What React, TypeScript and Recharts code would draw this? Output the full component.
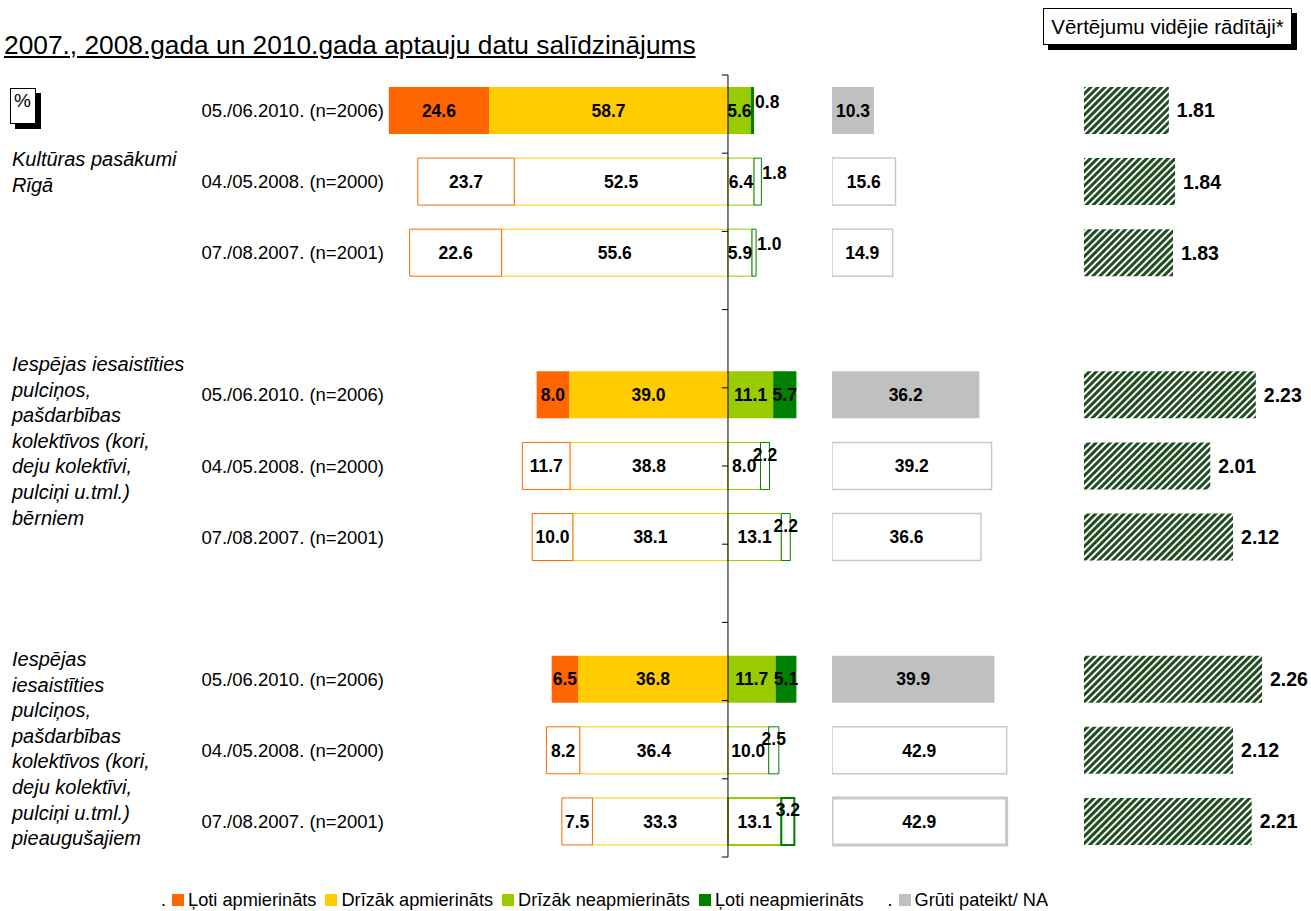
import React from 'react';
import { BarChart, Bar, XAxis, YAxis, LabelList, Cell, ReferenceLine } from 'recharts';

const periods = ['05./06.2010. (n=2006)', '04./05.2008. (n=2000)', '07./08.2007. (n=2001)'];

const groupNames = [
  ['Kultūras pasākumi', 'Rīgā'],
  ['Iespējas iesaistīties', 'pulciņos,', 'pašdarbības', 'kolektīvos (kori,', 'deju kolektīvi,', 'pulciņi u.tml.)', 'bērniem'],
  ['Iespējas', 'iesaistīties', 'pulciņos,', 'pašdarbības', 'kolektīvos (kori,', 'deju kolektīvi,', 'pulciņi u.tml.)', 'pieaugušajiem'],
];

// one value per row: group 1 (2010, 2008, 2007), group 2 (...), group 3 (...)
const verySatisfied = [24.6, 23.7, 22.6, 8.0, 11.7, 10.0, 6.5, 8.2, 7.5];
const ratherSatisfied = [58.7, 52.5, 55.6, 39.0, 38.8, 38.1, 36.8, 36.4, 33.3];
const ratherDissatisfied = [5.6, 6.4, 5.9, 11.1, 8.0, 13.1, 11.7, 10.0, 13.1];
const veryDissatisfied = [0.8, 1.8, 1.0, 5.7, 2.2, 2.2, 5.1, 2.5, 3.2];
const hardToSay = [10.3, 15.6, 14.9, 36.2, 39.2, 36.6, 39.9, 42.9, 42.9];
const meanScores = [1.81, 1.84, 1.83, 2.23, 2.01, 2.12, 2.26, 2.12, 2.21];

const seriesNames = ['Ļoti apmierināts', 'Drīzāk apmierināts', 'Drīzāk neapmierināts', 'Ļoti neapmierināts', 'Grūti pateikt/ NA'];
const seriesColors = ['#ff6600', '#ffcc00', '#99cc00', '#008000', '#c0c0c0'];

type Row = {
  key: string;
  period: string;
  current: boolean;
  last: boolean;
  veryS?: number;
  ratherS?: number;
  ratherD?: number;
  veryD?: number;
  hard?: number;
  mean?: number;
};

const rows: Row[] = [];
groupNames.forEach((_, gi) => {
  if (gi > 0) rows.push({ key: `gap${gi}`, period: '', current: false, last: false });
  periods.forEach((p, pi) => {
    const i = gi * 3 + pi;
    rows.push({
      key: `${gi}-${pi}`,
      period: p,
      current: pi === 0,
      last: i === verySatisfied.length - 1,
      veryS: -verySatisfied[i],
      ratherS: -ratherSatisfied[i],
      ratherD: ratherDissatisfied[i],
      veryD: veryDissatisfied[i],
      hard: hardToSay[i],
      mean: meanScores[i],
    });
  });
});

const font = '"Liberation Sans", Arial, sans-serif';
const chartHeight = 880;
const chartMargin = { top: 75, bottom: 23 };
const fmt = (v: any) => (v == null ? '' : Math.abs(Number(v)).toFixed(1));
const labelStyle = { fontSize: 17.5, fontWeight: 700, fill: '#000', fontFamily: font };

const SmallLabel = (props: any) => {
  const vb = props.viewBox || props;
  const x = props.x ?? vb.x;
  const y = props.y ?? vb.y;
  const width = props.width ?? vb.width;
  const height = props.height ?? vb.height;
  const { value } = props;
  if (value == null) return null;
  const v = Math.abs(Number(value));
  let tx = x + width / 2;
  let anchor: 'middle' | 'start' = 'middle';
  let dy = 0;
  if (v < 2) {
    tx = x + width + 1;
    anchor = 'start';
    dy = -9;
  } else if (v < 4) {
    dy = -11;
  }
  return (
    <text x={tx} y={y + height / 2 + dy} textAnchor={anchor} dominantBaseline="central" {...labelStyle}>
      {v.toFixed(1)}
    </text>
  );
};

const segmentCells = (color: string, thick: boolean) =>
  rows.map((r) => (
    <Cell
      key={r.key}
      fill={r.current ? color : '#ffffff'}
      stroke={r.current ? 'none' : color}
      strokeWidth={thick && r.last ? 2 : 1}
    />
  ));

const periodOf = (k: any) => rows.find((r) => r.key === k)?.period ?? '';

const boxShadow = '5px 5px 0 #000';

export default function App() {
  return (
    <div style={{ position: 'absolute', left: 0, top: 0, width: 1311, height: 911, overflow: 'hidden', background: '#fff', fontFamily: font }}>
      <div style={{ position: 'absolute', left: 4, top: 30, fontSize: 26.3, textDecoration: 'underline', whiteSpace: 'nowrap' }}>
        2007., 2008.gada un 2010.gada aptauju datu salīdzinājums
      </div>

      <div style={{ position: 'absolute', left: 1043, top: 8, width: 247, height: 35, border: '1px solid #000', boxShadow, background: '#fff', fontSize: 20.5, lineHeight: '35px', textAlign: 'center', whiteSpace: 'nowrap' }}>
        Vērtējumu vidējie rādītāji*
      </div>

      <div style={{ position: 'absolute', left: 10, top: 88, width: 26, height: 36, border: '1px solid #000', boxShadow, background: '#fff', fontSize: 19, lineHeight: '24px', paddingLeft: 3, boxSizing: 'border-box' }}>
        %
      </div>

      {groupNames.map((lines, gi) => (
        <div key={gi} style={{ position: 'absolute', left: 12, top: [147, 352, 647][gi], fontSize: 20, fontStyle: 'italic', lineHeight: '25.6px', whiteSpace: 'nowrap' }}>
          {lines.map((l) => (
            <div key={l}>{l}</div>
          ))}
        </div>
      ))}

      {/* diverging satisfaction bars */}
      <div style={{ position: 'absolute', left: 0, top: 0 }}>
        <BarChart
          width={820}
          height={chartHeight}
          data={rows}
          layout="vertical"
          stackOffset="sign"
          margin={{ top: chartMargin.top, bottom: chartMargin.bottom, left: 0, right: 10.6 }}
        >
          <XAxis type="number" domain={[-84, 20]} hide />
          <YAxis
            type="category"
            dataKey="key"
            width={386}
            interval={0}
            axisLine={false}
            tickLine={false}
            tickSize={0}
            tickMargin={2}
            tickFormatter={periodOf}
            tick={{ fontSize: 18.5, fill: '#000', fontFamily: font }}
          />
          <YAxis yAxisId="grid" type="number" domain={[0, 11]} hide />
          <Bar dataKey="ratherS" stackId="s" barSize={47} isAnimationActive={false}>
            {segmentCells(seriesColors[1], false)}
            <LabelList dataKey="ratherS" position="center" formatter={fmt} style={labelStyle} />
          </Bar>
          <Bar dataKey="veryS" stackId="s" barSize={47} isAnimationActive={false}>
            {segmentCells(seriesColors[0], false)}
            <LabelList dataKey="veryS" position="center" formatter={fmt} style={labelStyle} />
          </Bar>
          <Bar dataKey="ratherD" stackId="s" barSize={47} isAnimationActive={false}>
            {segmentCells(seriesColors[2], true)}
            <LabelList dataKey="ratherD" position="center" formatter={fmt} style={labelStyle} />
          </Bar>
          <Bar dataKey="veryD" stackId="s" barSize={47} isAnimationActive={false}>
            {segmentCells(seriesColors[3], true)}
            <LabelList dataKey="veryD" content={<SmallLabel />} />
          </Bar>
          <ReferenceLine x={0} stroke="#000" strokeWidth={1} />
          {Array.from({ length: 12 }, (_, k) => (
            <ReferenceLine
              key={k}
              yAxisId="grid"
              segment={[{ x: -1.5, y: k }, { x: 0, y: k }]}
              stroke="#000"
            />
          ))}
        </BarChart>
      </div>

      {/* hard to say */}
      <div style={{ position: 'absolute', left: 832, top: 0 }}>
        <BarChart
          width={190}
          height={chartHeight}
          data={rows}
          layout="vertical"
          margin={{ top: chartMargin.top, bottom: chartMargin.bottom, left: 0, right: 190 - 45 * 4.071 }}
        >
          <XAxis type="number" domain={[0, 45]} hide />
          <YAxis type="category" dataKey="key" hide />
          <Bar dataKey="hard" barSize={47} isAnimationActive={false}>
            {rows.map((r) => (
              <Cell
                key={r.key}
                fill={r.current ? seriesColors[4] : '#ffffff'}
                stroke={r.current ? 'none' : '#c8c8c8'}
                strokeWidth={r.last ? 3 : 1.5}
              />
            ))}
            <LabelList dataKey="hard" position="center" formatter={fmt} style={labelStyle} />
          </Bar>
        </BarChart>
      </div>

      {/* mean scores */}
      <div style={{ position: 'absolute', left: 1084, top: 0 }}>
        <BarChart
          width={226}
          height={chartHeight}
          data={rows}
          layout="vertical"
          margin={{ top: chartMargin.top, bottom: chartMargin.bottom, left: 0, right: 226 - 0.95 * 207 }}
        >
          <defs>
            <pattern id="hatch" width="5" height="5" patternUnits="userSpaceOnUse" patternTransform="rotate(45)">
              <rect width="5" height="5" fill="#ffffff" />
              <rect width="3" height="5" fill="#1f4d1f" />
            </pattern>
          </defs>
          <XAxis type="number" domain={[1.4, 2.35]} hide allowDataOverflow />
          <YAxis type="category" dataKey="key" hide />
          <Bar dataKey="mean" barSize={47} fill="url(#hatch)" isAnimationActive={false}>
            <LabelList
              dataKey="mean"
              position="right"
              offset={8}
              formatter={(v: any) => (v == null ? '' : Number(v).toFixed(2))}
              style={{ ...labelStyle, fontSize: 19.5 }}
            />
          </Bar>
        </BarChart>
      </div>

      <div style={{ position: 'absolute', left: 161, top: 888, fontSize: 18.2, lineHeight: '24px', whiteSpace: 'nowrap', display: 'flex', alignItems: 'center' }}>
        {seriesNames.map((name, i) => (
          <span key={name} style={{ display: 'inline-flex', alignItems: 'center', marginRight: i === 3 ? 24 : 9 }}>
            {i === 0 || i === 4 ? <span style={{ marginRight: 6 }}>.</span> : null}
            <span style={{ width: 12, height: 12, background: seriesColors[i], display: 'inline-block', marginRight: 4 }} />
            {name}
          </span>
        ))}
      </div>
    </div>
  );
}
